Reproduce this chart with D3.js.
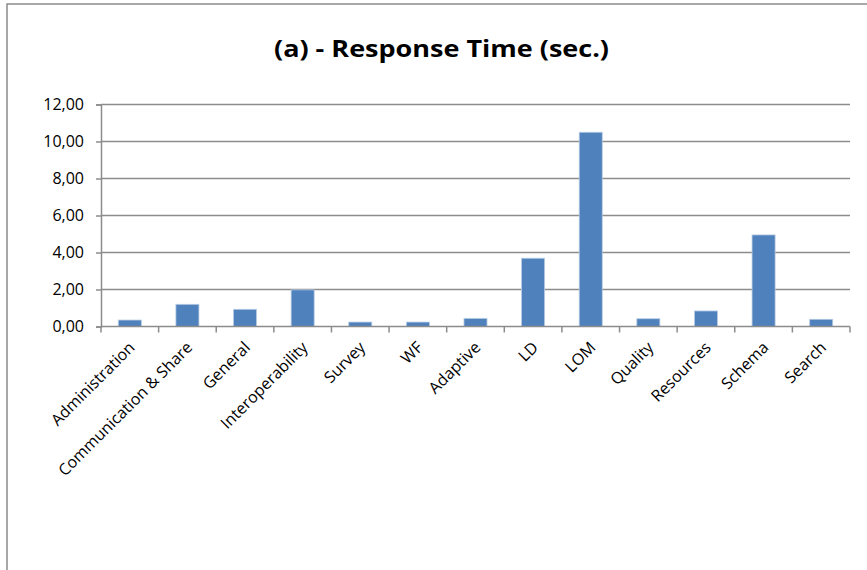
<!DOCTYPE html>
<html>
<head>
<meta charset="utf-8">
<script src="https://cdn.jsdelivr.net/npm/d3@7"></script>
<style>
  html, body { margin: 0; padding: 0; background: #fff; }
  svg { display: block; }
</style>
</head>
<body>
<svg id="chart" width="867" height="570"></svg>
<script>
// Response time per module, in seconds
const categories = ["Administration", "Communication & Share", "General", "Interoperability",
  "Survey", "WF", "Adaptive", "LD", "LOM", "Quality", "Resources", "Schema", "Search"];
const responseTimes = [0.35, 1.2, 0.93, 1.98, 0.24, 0.24, 0.44, 3.69, 10.5, 0.42, 0.84, 4.95, 0.39];
const yTicks = [0, 2, 4, 6, 8, 10, 12];
const titleText = "(a) - Response Time (sec.)";

const svg = d3.select("#chart");
const font = "'Open Sans', sans-serif";

// chart frame
svg.append("rect")
  .attr("x", 7).attr("y", 4).attr("width", 880).attr("height", 600)
  .attr("fill", "#fff").attr("stroke", "#8c8c8c").attr("stroke-width", 1.5);

const plot = { left: 101, right: 850, top: 104.5, bottom: 326.5 };

const x = d3.scaleBand()
  .domain(categories)
  .range([plot.left, plot.right])
  .paddingInner(0.6)
  .paddingOuter(0.3);

const y = d3.scaleLinear()
  .domain([0, 12])
  .range([plot.bottom, plot.top]);

// horizontal gridlines
svg.append("g")
  .selectAll("line")
  .data(yTicks.filter(d => d > 0))
  .join("line")
  .attr("x1", plot.left).attr("x2", plot.right)
  .attr("y1", d => y(d)).attr("y2", d => y(d))
  .attr("stroke", "#8c8c8c").attr("stroke-width", 1.5);

// bars
svg.append("g")
  .selectAll("rect")
  .data(responseTimes)
  .join("rect")
  .attr("x", (d, i) => x(categories[i]))
  .attr("width", x.bandwidth())
  .attr("y", d => y(d))
  .attr("height", d => y(0) - y(d))
  .attr("fill", "#4f81bd")
  .attr("stroke", "#b9cde5")
  .attr("stroke-width", 0.8);

// y axis
const yAxis = d3.axisLeft(y)
  .tickValues(yTicks)
  .tickSize(5)
  .tickPadding(12)
  .tickFormat(d => d3.format(".2f")(d).replace(".", ","));
const gy = svg.append("g")
  .attr("transform", `translate(${plot.left},0)`)
  .call(yAxis);
gy.select(".domain").attr("stroke", "#8c8c8c").attr("stroke-width", 1.5);
gy.selectAll(".tick line").attr("stroke", "#8c8c8c").attr("stroke-width", 1.5);
gy.selectAll(".tick text")
  .attr("font-family", font).attr("font-size", 16).attr("fill", "#000");

// x axis: tick marks at category boundaries
const step = (plot.right - plot.left) / categories.length;
const boundaries = d3.range(categories.length + 1).map(i => plot.left + i * step);
svg.append("g")
  .selectAll("line")
  .data(boundaries)
  .join("line")
  .attr("x1", d => d).attr("x2", d => d)
  .attr("y1", plot.bottom).attr("y2", plot.bottom + 6)
  .attr("stroke", "#8c8c8c").attr("stroke-width", 1.5);
svg.append("line")
  .attr("x1", plot.left).attr("x2", plot.right)
  .attr("y1", plot.bottom).attr("y2", plot.bottom)
  .attr("stroke", "#8c8c8c").attr("stroke-width", 1.5);

// rotated category labels
svg.append("g")
  .selectAll("text")
  .data(categories)
  .join("text")
  .attr("transform", d => `translate(${x(d) + x.bandwidth() / 2 + 6},${plot.bottom + 22}) rotate(-45)`)
  .attr("text-anchor", "end")
  .attr("font-family", font)
  .attr("font-size", 16)
  .attr("fill", "#000")
  .text(d => d);

// title
svg.append("text")
  .attr("x", 441.5).attr("y", 57)
  .attr("text-anchor", "middle")
  .attr("font-family", font)
  .attr("font-weight", "bold")
  .attr("font-size", 24)
  .attr("textLength", 335)
  .attr("lengthAdjust", "spacingAndGlyphs")
  .attr("fill", "#000")
  .text(titleText);
</script>
</body>
</html>
